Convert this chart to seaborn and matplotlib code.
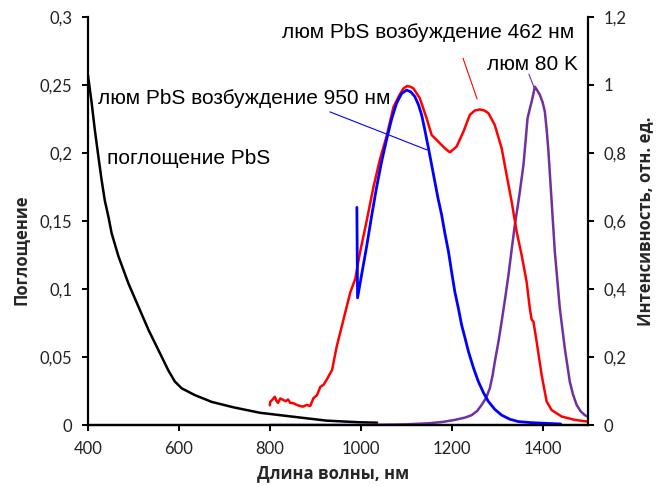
import matplotlib
matplotlib.use("Agg")
import matplotlib.pyplot as plt
import seaborn as sns

# --- absorption spectrum of PbS (left axis) ---
wl_abs = [400, 404, 408, 415, 423, 430, 437, 445, 452, 467, 489, 511, 533, 555, 577,
          591, 606, 635, 672, 720, 778, 851, 925, 998, 1036]
absorb = [0.257, 0.247, 0.237, 0.217, 0.197, 0.180, 0.165, 0.153, 0.141, 0.124, 0.104,
          0.087, 0.070, 0.055, 0.040, 0.032, 0.027, 0.022, 0.017, 0.013, 0.009, 0.0061,
          0.0032, 0.002, 0.0017]

# --- PL, excitation 462 nm (right axis) ---
wl_red = [800, 801, 806, 811, 815, 818, 823, 829, 835, 840, 845, 852, 858, 866, 873,
          881, 889, 896, 904, 911, 918, 925, 937, 947, 962, 977, 988, 998, 1013, 1028,
          1042, 1057, 1072, 1085, 1094, 1102, 1109, 1116, 1130, 1145, 1156, 1171, 1185,
          1196, 1211, 1226, 1240, 1251, 1262, 1272, 1281, 1295, 1310, 1321, 1332, 1343,
          1354, 1365, 1372, 1376, 1380, 1387, 1398, 1409, 1420, 1442, 1471, 1500]
pl_red = [0.058, 0.068, 0.075, 0.083, 0.07, 0.065, 0.078, 0.074, 0.07, 0.075, 0.065,
          0.064, 0.06, 0.056, 0.054, 0.059, 0.056, 0.079, 0.088, 0.112, 0.118, 0.133,
          0.162, 0.23, 0.31, 0.39, 0.43, 0.505, 0.60, 0.70, 0.78, 0.85, 0.935, 0.97,
          0.99, 0.997, 0.995, 0.99, 0.961, 0.902, 0.853, 0.833, 0.814, 0.802, 0.819,
          0.863, 0.912, 0.925, 0.928, 0.925, 0.917, 0.882, 0.814, 0.735, 0.657, 0.569,
          0.50, 0.421, 0.343, 0.31, 0.304, 0.245, 0.147, 0.069, 0.044, 0.025, 0.015,
          0.01]

# --- PL, excitation 950 nm (right axis) ---
wl_blue = [991.5, 993, 1003, 1013, 1024, 1035, 1046, 1057, 1068, 1079, 1090, 1101,
           1110, 1119, 1127, 1134, 1141, 1149, 1156, 1163, 1170, 1178, 1185, 1193, 1200,
           1207, 1215, 1222, 1230, 1237, 1248, 1259, 1270, 1281, 1295, 1310, 1328, 1347,
           1375, 1406, 1440]
pl_blue = [0.64, 0.374, 0.45, 0.525, 0.615, 0.70, 0.775, 0.84, 0.90, 0.947, 0.975,
           0.985, 0.98, 0.966, 0.942, 0.912, 0.868, 0.814, 0.765, 0.716, 0.667, 0.618,
           0.565, 0.510, 0.45, 0.392, 0.342, 0.294, 0.253, 0.216, 0.168, 0.127, 0.095,
           0.069, 0.046, 0.029, 0.017, 0.010, 0.007, 0.005, 0.003]

# --- PL at 80 K (right axis) ---
wl_pur = [800, 1000, 1100, 1149, 1180, 1207, 1230, 1244, 1256, 1266, 1276, 1284, 1290,
          1295, 1303, 1310, 1318, 1325, 1332, 1339, 1345, 1350, 1358, 1363, 1367, 1372,
          1376, 1380, 1383, 1388, 1394, 1400, 1405, 1409, 1413, 1420, 1427, 1438, 1449,
          1460, 1467, 1475, 1484, 1493, 1500]
pl_pur = [0, 0, 0.002, 0.005, 0.009, 0.015, 0.022, 0.029, 0.041, 0.059, 0.08, 0.108,
          0.145, 0.186, 0.245, 0.304, 0.375, 0.441, 0.515, 0.588, 0.64, 0.686, 0.765,
          0.84, 0.902, 0.93, 0.951, 0.975, 0.995, 0.985, 0.971, 0.95, 0.922, 0.87,
          0.804, 0.657, 0.510, 0.343, 0.225, 0.127, 0.09, 0.059, 0.04, 0.029, 0.024]

x_ticks = [400, 600, 800, 1000, 1200, 1400]
left_ticks = [0, 0.05, 0.1, 0.15, 0.2, 0.25, 0.3]
left_labels = ["0", "0,05", "0,1", "0,15", "0,2", "0,25", "0,3"]
right_ticks = [0, 0.2, 0.4, 0.6, 0.8, 1.0, 1.2]
right_labels = ["0", "0,2", "0,4", "0,6", "0,8", "1", "1,2"]

sns.set_theme(style="white")
plt.rcParams["font.family"] = ["Liberation Sans", "DejaVu Sans"]

fig = plt.figure(figsize=(6.68, 4.86), dpi=100)
ax = fig.add_axes([88 / 668, 61 / 486, 500 / 668, 408 / 486])
ax2 = ax.twinx()

lw = 1.8
sns.lineplot(x=wl_abs, y=absorb, ax=ax, color="black", lw=lw, estimator=None)
sns.lineplot(x=wl_pur, y=pl_pur, ax=ax2, color="#7030A0", lw=lw, estimator=None)
sns.lineplot(x=wl_red, y=pl_red, ax=ax2, color="#FF0000", lw=lw, estimator=None)
sns.lineplot(x=wl_blue, y=pl_blue, ax=ax2, color="#0000FF", lw=2.0, estimator=None,
             sort=False)

ax.set_xlim(400, 1500)
ax.set_ylim(0, 0.3)
ax2.set_ylim(0, 1.2)
ax.set_xticks(x_ticks)
ax.set_xticklabels([str(v) for v in x_ticks])
ax.set_yticks(left_ticks)
ax.set_yticklabels(left_labels)
ax2.set_yticks(right_ticks)
ax2.set_yticklabels(right_labels)

tick_font = ["Lato", "Open Sans", "DejaVu Sans"]
for a in (ax, ax2):
    for s in a.spines.values():
        s.set_color("black")
        s.set_linewidth(1.6)
    a.spines["top"].set_visible(False)
    a.tick_params(direction="out", length=4.5, width=1.4, color="black",
                  labelsize=12, labelcolor="#222222", pad=7)
    for lab in a.get_xticklabels() + a.get_yticklabels():
        lab.set_family(tick_font)
    a.grid(False)
ax.spines["right"].set_visible(False)
ax2.spines["left"].set_visible(False)
ax.tick_params(left=True, bottom=True)
ax2.tick_params(right=True)

label_font = ["Open Sans", "DejaVu Sans"]
ax.set_xlabel("Длина волны, нм", fontsize=12, fontweight="bold", family=label_font,
              va="center")
ax.set_ylabel("Поглощение", fontsize=12, fontweight="bold", family=label_font,
              va="center")
ax2.set_ylabel("Интенсивность, отн. ед.", fontsize=12, fontweight="bold",
               family=label_font, rotation=90, va="center")
ax.xaxis.set_label_coords(0.49, -0.1176)
ax.yaxis.set_label_coords(-0.134, 0.43)
ax2.yaxis.set_label_coords(1.115, 0.5)

# callouts (right-axis data coordinates)
txt = dict(fontsize=15, color="black")
ax2.text(1148, 1.153, "люм PbS возбуждение 462 нм", ha="center", va="center", **txt)
ax2.text(1377, 1.059, "люм 80 K", ha="center", va="center", **txt)
ax2.text(422, 0.959, "люм PbS возбуждение 950 нм", ha="left", va="center", **txt)
ax2.text(442, 0.785, "поглощение PbS", ha="left", va="center", **txt)

ax2.annotate("", xy=(1256, 0.959), xytext=(1225, 1.079),
             arrowprops=dict(arrowstyle="-", color="#FF0000", lw=0.8,
                             shrinkA=0, shrinkB=0))
ax2.annotate("", xy=(1381, 0.994), xytext=(1370, 1.032),
             arrowprops=dict(arrowstyle="-", color="#7030A0", lw=0.8,
                             shrinkA=0, shrinkB=0))
ax2.annotate("", xy=(1146, 0.809), xytext=(932, 0.921),
             arrowprops=dict(arrowstyle="-", color="#0000FF", lw=0.8,
                             shrinkA=0, shrinkB=0))

fig.savefig("out.png", dpi=100, facecolor="white")
